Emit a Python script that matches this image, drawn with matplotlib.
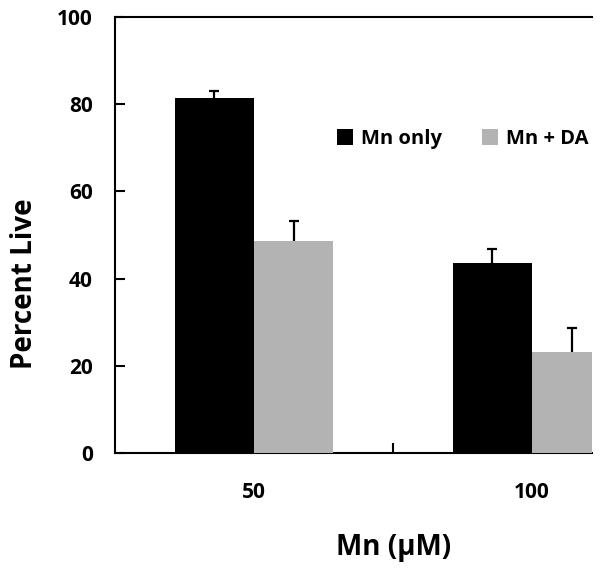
import numpy as np
import matplotlib.pyplot as plt

plt.rcParams['font.family'] = ['Open Sans', 'DejaVu Sans']

conc = ['50', '100']
mn_only = [81.5, 43.5]
mn_only_err = [1.6, 3.2]
mn_da = [48.7, 23.1]
mn_da_err = [4.6, 5.6]

x = np.arange(len(conc))
w = 0.285

fig = plt.figure(figsize=(6.01, 5.71), dpi=100)
ax = fig.add_axes([0.1913, 0.2067, 0.7937, 0.7636])

ax.bar(x - w / 2, mn_only, w, color='black', label='Mn only', zorder=3)
ax.bar(x + w / 2, mn_da, w, color='#b3b3b3', label='Mn + DA', zorder=3)
# only the upper half of each error bar shows, the rest sits behind the bar
ax.errorbar(x - w / 2, mn_only, yerr=mn_only_err, fmt='none', ecolor='black',
            elinewidth=1.6, capthick=1.6, capsize=3.5, zorder=2)
ax.errorbar(x + w / 2, mn_da, yerr=mn_da_err, fmt='none', ecolor='black',
            elinewidth=1.6, capthick=1.6, capsize=3.5, zorder=2)

ax.set_xlim(-0.5, 1.216)
ax.set_ylim(0, 100)
ax.set_yticks(range(0, 101, 20))
ax.set_xticks([0.5])
ax.set_xticklabels([''])
ax.tick_params(axis='both', direction='in', length=7, width=1.5, labelsize=15)
ax.tick_params(axis='y', pad=16)
for lab in ax.get_yticklabels():
    lab.set_fontweight('bold')

for i, c in enumerate(conc):
    ax.text(x[i], -0.09, c, transform=ax.get_xaxis_transform(), ha='center', va='center',
            fontsize=15, fontweight='bold')

for s in ['top', 'left', 'bottom']:
    ax.spines[s].set_linewidth(1.5)
ax.spines['right'].set_visible(False)

ax.set_ylabel('Percent Live', fontsize=20, fontweight='bold')
ax.yaxis.set_label_coords(-0.16, 0.388)
ax.set_xlabel('Mn (\u03bcM)', fontsize=20, fontweight='bold')
ax.xaxis.set_label_coords(0.583, -0.183)

ax.legend(loc='center', bbox_to_anchor=(0.729, 0.72), ncol=2, frameon=False,
          handlelength=0.8, handleheight=0.8, handletextpad=0.4,
          columnspacing=2.0, prop={'weight': 'bold', 'size': 14.5})

fig.savefig('out.png', dpi=100)
